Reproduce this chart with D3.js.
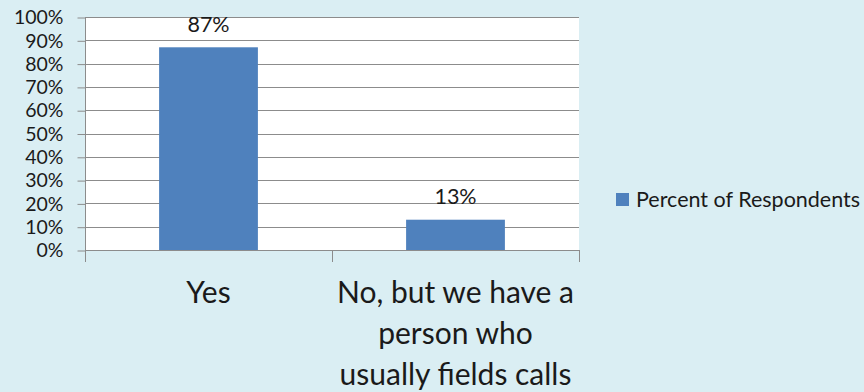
<!DOCTYPE html>
<html>
<head>
<meta charset="utf-8">
<script src="https://cdn.jsdelivr.net/npm/d3@7"></script>
<style>
  html, body { margin: 0; padding: 0; background: #daeef3; }
  svg { display: block; font-family: Lato, "Open Sans", sans-serif; }
</style>
</head>
<body>
<svg id="chart" width="864" height="392"></svg>
<script>
// Survey answers and their share of respondents
const categories = ["Yes", "No, but we have a person who usually fields calls"];
const categoryLines = [["Yes"], ["No, but we have a", "person who", "usually fields calls"]];
const percentValues = [87, 13];
const yTicks = [0, 10, 20, 30, 40, 50, 60, 70, 80, 90, 100];
const seriesName = "Percent of Respondents";

const svg = d3.select("#chart");
const margin = { left: 85, right: 285, top: 17, bottom: 142 };
const W = 864, H = 392;
const x0 = margin.left, x1 = W - margin.right;
const y0 = H - margin.bottom, y1 = margin.top;

const x = d3.scaleBand().domain(categories).range([x0, x1]).paddingInner(0.6).paddingOuter(0.3);
const band = d3.scaleBand().domain(categories).range([x0, x1]);
const y = d3.scaleLinear().domain([0, 100]).range([y0, y1]);

const textColor = "#1a1a1a";
const lineColor = "#8c8c8c";
const barColor = "#4f81bd";

// plot area
svg.append("rect").attr("x", x0).attr("y", y1).attr("width", x1 - x0).attr("height", y0 - y1).attr("fill", "#ffffff");

// horizontal gridlines
svg.append("g").selectAll("line").data(yTicks.filter(t => t > 0)).join("line")
  .attr("x1", x0).attr("x2", x1)
  .attr("y1", d => Math.round(y(d)) + 0.5).attr("y2", d => Math.round(y(d)) + 0.5)
  .attr("stroke", lineColor).attr("stroke-width", 1);

// y axis
const yAxis = d3.axisLeft(y).tickValues(yTicks).tickFormat(d => d + "%").tickSize(8).tickPadding(14);
const gy = svg.append("g").attr("transform", `translate(${x0 + 0.5},0.5)`).call(yAxis);
gy.select(".domain").attr("stroke", lineColor).attr("d", `M0,${y1}V${y0}`);
gy.selectAll(".tick line").attr("stroke", lineColor);
gy.selectAll(".tick text").attr("fill", textColor).style("font-size", "19.5px").style("font-family", "Lato");

// x axis with category boundary ticks
const gx = svg.append("g");
gx.append("line").attr("x1", x0).attr("x2", x1).attr("y1", Math.round(y0) + 0.5).attr("y2", Math.round(y0) + 0.5).attr("stroke", lineColor);
const bounds = categories.map(c => band(c)).concat([x1]);
gx.selectAll("line.b").data(bounds).join("line").attr("class", "b")
  .attr("x1", d => Math.round(d) + 0.5).attr("x2", d => Math.round(d) + 0.5)
  .attr("y1", y0).attr("y2", y0 + 12).attr("stroke", lineColor);

// bars
svg.append("g").selectAll("rect").data(percentValues).join("rect")
  .attr("x", (d, i) => x(categories[i]))
  .attr("width", x.bandwidth())
  .attr("y", d => y(d))
  .attr("height", d => y(0) - y(d))
  .attr("fill", barColor);

// value labels
svg.append("g").selectAll("text").data(percentValues).join("text")
  .attr("x", (d, i) => x(categories[i]) + x.bandwidth() / 2)
  .attr("y", d => y(d) - 15.5)
  .attr("text-anchor", "middle")
  .attr("fill", textColor)
  .style("font-size", "21.5px")
  .text(d => d + "%");

// category labels, wrapped
const cl = svg.append("g").selectAll("text").data(categories).join("text")
  .attr("text-anchor", "middle")
  .attr("fill", textColor)
  .style("font-size", "30px");
cl.each(function(c, i) {
  const cx = band(c) + band.bandwidth() / 2;
  d3.select(this).selectAll("tspan").data(categoryLines[i]).join("tspan")
    .attr("x", cx)
    .attr("y", (l, j) => 303 + j * 41)
    .text(l => l);
});

// legend
const lg = svg.append("g").attr("transform", "translate(616,193)");
lg.append("rect").attr("width", 13).attr("height", 13).attr("fill", barColor);
lg.append("text").attr("x", 20).attr("y", 14).attr("fill", textColor).style("font-size", "21.5px").text(seriesName);
</script>
</body>
</html>
